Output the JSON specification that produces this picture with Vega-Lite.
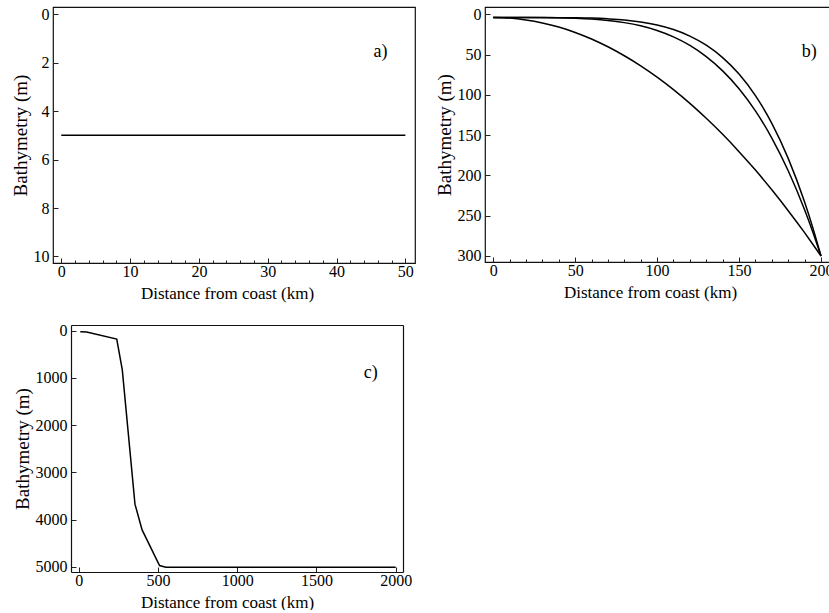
{
  "$schema": "https://vega.github.io/schema/vega-lite/v6.json",
  "padding": {"left": 10, "top": 5, "right": 0, "bottom": 0},
  "background": "white",
  "config": {
    "font": "Liberation Serif",
    "view": {"stroke": "#111", "strokeWidth": 1.2},
    "text": {"font": "Liberation Serif"},
    "axis": {
      "domain": false,
      "grid": false,
      "labelFont": "Liberation Serif",
      "titleFont": "Liberation Serif",
      "labelFontSize": 16,
      "titleFontSize": 17,
      "titleFontWeight": "normal",
      "labelColor": "#000",
      "titleColor": "#000",
      "tickColor": "#222",
      "domainColor": "#111",
      "domainWidth": 1.2,
      "tickSize": -5,
      "tickWidth": 1,
      "labelOverlap": false,
      "labelFlush": false
    }
  },
  "columns": 2,
  "align": "none",
  "spacing": {"row": 20, "column": 18},
  "concat": [
    {
      "width": 362,
      "height": 256,
      "resolve": {"axis": {"x": "independent"}},
      "layer": [
        {
          "data": {"values": [{"distance": 0, "depth": 5}, {"distance": 50, "depth": 5}]},
          "mark": {"type": "line", "color": "#000", "strokeWidth": 1.5},
          "encoding": {
            "x": {"field": "distance", "type": "quantitative", "title": "Distance from coast (km)",
              "scale": {"domain": [-1.2, 51.4], "nice": false, "zero": false},
              "axis": {"values": [0, 10, 20, 30, 40, 50], "orient": "bottom", "labelPadding": 5,
                "titleFontSize": 17, "titlePadding": 6, "titleX": 174}},
            "y": {"field": "depth", "type": "quantitative", "title": "Bathymetry (m)",
              "scale": {"domain": [-0.3, 10.27], "nice": false, "zero": false, "reverse": true},
              "axis": {"values": [0, 2, 4, 6, 8, 10], "labelPadding": 9,
                "titleFontSize": 19, "titlePadding": 3}}
          }
        },
        {
          "data": {"values": [{"distance": 46.4, "depth": 1.56, "label": "a)"}]},
          "mark": {"type": "text", "fontSize": 18, "font": "Liberation Serif", "color": "#000"},
          "encoding": {
            "x": {"field": "distance", "type": "quantitative",
              "axis": {"orient": "bottom", "values": [2,4,6,8,12,14,16,18,22,24,26,28,32,34,36,38,42,44,46,48],
                "labels": false, "title": null, "domain": false, "tickSize": -3}},
            "y": {"field": "depth", "type": "quantitative"},
            "text": {"field": "label"}
          }
        }
      ]
    },
    {
      "width": 345,
      "height": 255,
      "resolve": {"axis": {"x": "independent"}},
      "layer": [
        {
          "data": {"values": [
            {"distance": 0, "depth": 4, "profile": "p2"},
            {"distance": 10, "depth": 4.7, "profile": "p2"},
            {"distance": 20, "depth": 7.0, "profile": "p2"},
            {"distance": 30, "depth": 10.7, "profile": "p2"},
            {"distance": 40, "depth": 15.8, "profile": "p2"},
            {"distance": 50, "depth": 22.5, "profile": "p2"},
            {"distance": 60, "depth": 30.6, "profile": "p2"},
            {"distance": 70, "depth": 40.3, "profile": "p2"},
            {"distance": 80, "depth": 51.4, "profile": "p2"},
            {"distance": 90, "depth": 63.9, "profile": "p2"},
            {"distance": 100, "depth": 78.0, "profile": "p2"},
            {"distance": 110, "depth": 93.5, "profile": "p2"},
            {"distance": 120, "depth": 110.6, "profile": "p2"},
            {"distance": 130, "depth": 129.1, "profile": "p2"},
            {"distance": 140, "depth": 149.0, "profile": "p2"},
            {"distance": 150, "depth": 170.5, "profile": "p2"},
            {"distance": 160, "depth": 193.4, "profile": "p2"},
            {"distance": 170, "depth": 217.9, "profile": "p2"},
            {"distance": 180, "depth": 243.8, "profile": "p2"},
            {"distance": 190, "depth": 271.1, "profile": "p2"},
            {"distance": 195, "depth": 285.4, "profile": "p2"},
            {"distance": 200, "depth": 300, "profile": "p2"},
            {"distance": 0, "depth": 4, "profile": "p4"},
            {"distance": 20, "depth": 4.0, "profile": "p4"},
            {"distance": 40, "depth": 4.3, "profile": "p4"},
            {"distance": 50, "depth": 4.9, "profile": "p4"},
            {"distance": 60, "depth": 5.9, "profile": "p4"},
            {"distance": 70, "depth": 7.6, "profile": "p4"},
            {"distance": 80, "depth": 10.3, "profile": "p4"},
            {"distance": 90, "depth": 14.3, "profile": "p4"},
            {"distance": 100, "depth": 20.1, "profile": "p4"},
            {"distance": 110, "depth": 28.0, "profile": "p4"},
            {"distance": 120, "depth": 38.6, "profile": "p4"},
            {"distance": 130, "depth": 52.5, "profile": "p4"},
            {"distance": 140, "depth": 70.2, "profile": "p4"},
            {"distance": 150, "depth": 92.4, "profile": "p4"},
            {"distance": 160, "depth": 119.9, "profile": "p4"},
            {"distance": 170, "depth": 153.6, "profile": "p4"},
            {"distance": 180, "depth": 194.2, "profile": "p4"},
            {"distance": 190, "depth": 242.6, "profile": "p4"},
            {"distance": 195, "depth": 270.1, "profile": "p4"},
            {"distance": 200, "depth": 300, "profile": "p4"},
            {"distance": 0, "depth": 4, "profile": "p5"},
            {"distance": 20, "depth": 4.0, "profile": "p5"},
            {"distance": 40, "depth": 4.1, "profile": "p5"},
            {"distance": 50, "depth": 4.3, "profile": "p5"},
            {"distance": 60, "depth": 4.7, "profile": "p5"},
            {"distance": 70, "depth": 5.6, "profile": "p5"},
            {"distance": 80, "depth": 7.0, "profile": "p5"},
            {"distance": 90, "depth": 9.5, "profile": "p5"},
            {"distance": 100, "depth": 13.3, "profile": "p5"},
            {"distance": 110, "depth": 18.9, "profile": "p5"},
            {"distance": 120, "depth": 27.0, "profile": "p5"},
            {"distance": 130, "depth": 38.3, "profile": "p5"},
            {"distance": 140, "depth": 53.7, "profile": "p5"},
            {"distance": 150, "depth": 74.2, "profile": "p5"},
            {"distance": 160, "depth": 101.0, "profile": "p5"},
            {"distance": 170, "depth": 135.3, "profile": "p5"},
            {"distance": 180, "depth": 178.8, "profile": "p5"},
            {"distance": 190, "depth": 233.0, "profile": "p5"},
            {"distance": 195, "depth": 264.8, "profile": "p5"},
            {"distance": 200, "depth": 300, "profile": "p5"}
          ]},
          "mark": {"type": "line", "color": "#000", "strokeWidth": 1.5, "interpolate": "monotone"},
          "encoding": {
            "x": {"field": "distance", "type": "quantitative", "title": "Distance from coast (km)",
              "scale": {"domain": [-5, 205.5], "nice": false, "zero": false},
              "axis": {"values": [0, 50, 100, 150, 200], "orient": "bottom", "labelPadding": 5,
                "titleFontSize": 17, "titlePadding": 6, "titleX": 165}},
            "y": {"field": "depth", "type": "quantitative", "title": "Bathymetry (m)",
              "scale": {"domain": [-9.1, 307.5], "nice": false, "zero": false, "reverse": true},
              "axis": {"values": [0, 50, 100, 150, 200, 250, 300], "labelPadding": 9,
                "titleFontSize": 19, "titlePadding": 3}},
            "detail": {"field": "profile", "type": "nominal"}
          }
        },
        {
          "data": {"values": [{"distance": 192.9, "depth": 46.8, "label": "b)"}]},
          "mark": {"type": "text", "fontSize": 18, "font": "Liberation Serif", "color": "#000"},
          "encoding": {
            "x": {"field": "distance", "type": "quantitative",
              "axis": {"orient": "bottom", "values": [10,20,30,40,60,70,80,90,110,120,130,140,160,170,180,190],
                "labels": false, "title": null, "domain": false, "tickSize": -3}},
            "y": {"field": "depth", "type": "quantitative"},
            "text": {"field": "label"}
          }
        }
      ]
    },
    {
      "width": 350,
      "height": 247,
      "view": {"stroke": null},
      "resolve": {"axis": {"x": "independent", "y": "independent"}},
      "layer": [
        {
          "data": {"values": [
            {"distance": 10, "depth": 20},
            {"distance": 50, "depth": 25},
            {"distance": 240, "depth": 177},
            {"distance": 275, "depth": 830},
            {"distance": 355, "depth": 3670},
            {"distance": 400, "depth": 4215},
            {"distance": 510, "depth": 4970},
            {"distance": 550, "depth": 5005},
            {"distance": 2000, "depth": 5005}
          ]},
          "mark": {"type": "line", "color": "#000", "strokeWidth": 1.5},
          "encoding": {
            "x": {"field": "distance", "type": "quantitative", "title": "Distance from coast (km)",
              "scale": {"domain": [-48.6, 2046], "nice": false, "zero": false, "range": [18, 350]},
              "axis": {"values": [0, 500, 1000, 1500, 2000], "format": "d", "orient": "bottom",
                "domain": true, "labelPadding": 5, "titleFontSize": 17, "titlePadding": 6, "titleX": 174}},
            "y": {"field": "depth", "type": "quantitative", "title": "Bathymetry (m)",
              "scale": {"domain": [-121, 5106], "nice": false, "zero": false, "reverse": true},
              "axis": {"values": [0, 1000, 2000, 3000, 4000, 5000], "format": "d", "orient": "left",
                "domain": true, "offset": -18, "labelPadding": 9, "titleFontSize": 19, "titlePadding": 3}}
          }
        },
        {
          "data": {"values": [{"distance": 1842, "depth": 905, "label": "c)"}]},
          "mark": {"type": "text", "fontSize": 18, "font": "Liberation Serif", "color": "#000"},
          "encoding": {
            "x": {"field": "distance", "type": "quantitative",
              "axis": {"orient": "top", "labels": false, "ticks": false, "title": null, "domain": true}},
            "y": {"field": "depth", "type": "quantitative",
              "axis": {"orient": "right", "labels": false, "ticks": false, "title": null, "domain": true}},
            "text": {"field": "label"}
          }
        }
      ]
    }
  ]
}
